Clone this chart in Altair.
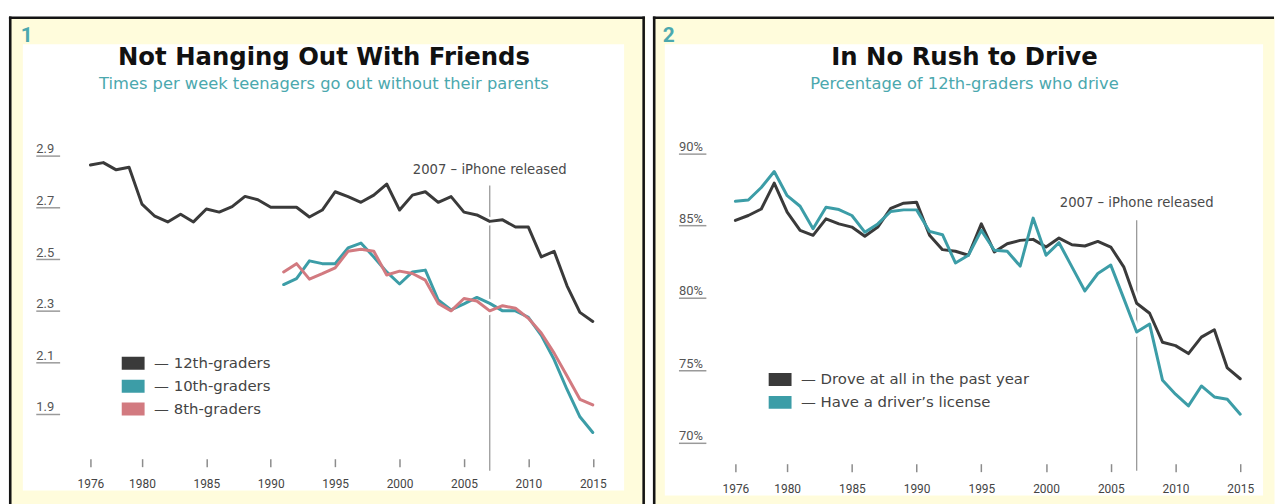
import altair as alt
import pandas as pd

# ---------------------------------------------------------------- data
YEARS = list(range(1976, 2016))
YEARS_MS = list(range(1991, 2016))

# Times per week teenagers go out without their parents
GRADE12 = [2.865, 2.874, 2.846, 2.856, 2.713, 2.666, 2.644, 2.674, 2.644, 2.694,
           2.682, 2.703, 2.743, 2.730, 2.701, 2.701, 2.701, 2.663, 2.690, 2.761,
           2.742, 2.720, 2.748, 2.791, 2.690, 2.748, 2.761, 2.720, 2.742, 2.682,
           2.671, 2.646, 2.652, 2.624, 2.624, 2.508, 2.530, 2.396, 2.293, 2.258]
GRADE10 = [2.401, 2.424, 2.493, 2.482, 2.482, 2.543, 2.562, 2.508, 2.450, 2.403,
           2.450, 2.457, 2.341, 2.303, 2.326, 2.351, 2.328, 2.299, 2.299, 2.274,
           2.204, 2.110, 1.994, 1.888, 1.827]
GRADE8 = [2.450, 2.482, 2.422, 2.443, 2.466, 2.530, 2.538, 2.530, 2.438, 2.453,
          2.444, 2.418, 2.328, 2.299, 2.347, 2.337, 2.299, 2.319, 2.309, 2.270,
          2.213, 2.135, 2.046, 1.956, 1.934]

# Percentage of 12th-graders who drive
DROVE = [85.36, 85.70, 86.15, 87.94, 85.93, 84.67, 84.33, 85.47, 85.12, 84.90,
         84.26, 84.90, 86.20, 86.55, 86.61, 84.33, 83.34, 83.23, 82.95, 85.12,
         83.18, 83.75, 83.98, 84.05, 83.52, 84.14, 83.68, 83.59, 83.91, 83.52,
         82.15, 79.63, 78.94, 76.93, 76.70, 76.15, 77.29, 77.80, 75.16, 74.41]
LICENSE = [86.68, 86.77, 87.64, 88.74, 87.07, 86.34, 84.78, 86.27, 86.11, 85.70,
           84.55, 85.12, 85.98, 86.09, 86.09, 84.60, 84.37, 82.42, 82.95, 84.67,
           83.30, 83.23, 82.20, 85.52, 82.95, 83.82, 82.15, 80.48, 81.69, 82.27,
           79.97, 77.64, 78.19, 74.30, 73.34, 72.53, 73.91, 73.15, 72.99, 71.96]

SERIES_1 = ["12th-graders", "10th-graders", "8th-graders"]
SERIES_2 = ["Drove at all in the past year", "Have a driver\u2019s license"]

IPHONE_YEAR = 2007
NOTE = "2007 \u2013 iPhone released"
TICK_YEARS = [1976, 1980, 1985, 1990, 1995, 2000, 2005, 2010, 2015]
TICKS_1 = [1.9, 2.1, 2.3, 2.5, 2.7, 2.9]
TICKS_2 = [70, 75, 80, 85, 90]

# ---------------------------------------------------------------- style
FONT = "DejaVu Sans"
NUM_FONT = "Roboto"
DARK = "#3a3a3a"
TEAL = "#3c9da7"
PINK = "#d27a80"
SUB_TEAL = "#4ba8ae"
YELLOW = "#fffcdc"
BORDER = "#141414"
H = 491


def linear_domain(v0, p0, v1, p1, size, vertical=False):
    """Domain for a linear scale so that v0 sits at pixel p0 and v1 at p1."""
    k = (v1 - v0) / (p1 - p0)
    a = v0 - p0 * k
    b = v0 + (size - p0) * k
    return [b, a] if vertical else [a, b]


def one(**cols):
    return pd.DataFrame({k: [v] for k, v in cols.items()})


def text_layer(txt, x, y, size, color, weight="normal", align="center", font=FONT):
    return alt.Chart(one(t=txt)).mark_text(
        font=font, fontSize=size, fontWeight=weight, color=color,
        align=align, baseline="alphabetic",
    ).encode(x=alt.value(x), y=alt.value(y), text="t:N")


def panel(df, series, colors, number, title, subtitle, W, x_px, y_vals, y_px,
          y_ticks, y_axis_x, y_label_x, y_fmt, x_axis_y, rule_top, note_y,
          legend_xy, box, right_border):
    x_enc = alt.X(
        "year:Q",
        scale=alt.Scale(domain=linear_domain(1976, x_px[0], 2015, x_px[1], W),
                        nice=False, zero=False),
        axis=alt.Axis(values=TICK_YEARS, format="d", orient="bottom",
                      offset=-(H - x_axis_y), tickSize=8, tickWidth=1.5,
                      tickColor="#8c8c8c", domain=False, grid=False,
                      labelPadding=12, labelFontSize=12, labelFont=NUM_FONT,
                      labelColor="#444444", labelFlush=False,
                      labelOverlap=False, title=None, zindex=2),
    )
    y_axis = dict(values=y_ticks, orient="left", offset=-y_axis_x,
                  tickSize=y_axis_x - y_label_x, tickWidth=1.5,
                  tickColor="#9a9a9a", domain=False, grid=False,
                  labelAlign="left", labelBaseline="alphabetic",
                  labelPadding=0, labelOffset=-3, labelFontSize=13,
                  labelFont=NUM_FONT, labelColor="#555555", title=None,
                  zindex=2)
    if y_fmt.startswith("datum"):
        y_axis["labelExpr"] = y_fmt
    else:
        y_axis["format"] = y_fmt
    y_enc = alt.Y(
        "value:Q",
        scale=alt.Scale(domain=linear_domain(y_vals[0], y_px[0], y_vals[1],
                                             y_px[1], H, vertical=True),
                        nice=False, zero=False),
        axis=alt.Axis(**y_axis),
    )

    layers = []
    # white plotting card on the yellow panel
    layers.append(alt.Chart(one(a=0)).mark_rect(color="white").encode(
        x=alt.value(box[0]), x2=alt.value(box[1]),
        y=alt.value(box[2]), y2=alt.value(box[3])))
    # panel frame
    bw = 2.6
    layers.append(alt.Chart(one(a=0)).mark_rule(color=BORDER, strokeWidth=bw).encode(
        x=alt.value(bw / 2), y=alt.value(0), y2=alt.value(H)))
    layers.append(alt.Chart(one(a=0)).mark_rule(color=BORDER, strokeWidth=bw).encode(
        x=alt.value(0), x2=alt.value(W), y=alt.value(bw / 2)))
    if right_border:
        layers.append(alt.Chart(one(a=0)).mark_rule(color=BORDER, strokeWidth=bw).encode(
            x=alt.value(W - bw / 2), y=alt.value(0), y2=alt.value(H)))

    # headings
    cx = (box[0] + box[1]) / 2 + 0.5
    layers.append(text_layer(number, box[0] - 2, 26, 21, SUB_TEAL, "bold", "left",
                             font=NUM_FONT))
    layers.append(text_layer(title, cx, 49, 24.5, "#111111", "bold"))
    layers.append(text_layer(subtitle, cx, 73, 16.4, SUB_TEAL))

    # iPhone marker
    mark_df = one(year=IPHONE_YEAR, value=y_vals[0], t=NOTE)
    layers.append(alt.Chart(mark_df).mark_rule(color="#9a9a9a", strokeWidth=1.3).encode(
        x=x_enc, y=alt.value(rule_top), y2=alt.value(457)))
    layers.append(alt.Chart(mark_df).mark_text(
        font=FONT, fontSize=13.3, color="#4a4a4a", align="center",
        baseline="alphabetic").encode(x=x_enc, y=alt.value(note_y), text="t:N"))

    # white halo under the series so the marker line breaks around them
    layers.append(alt.Chart(df).mark_line(color="white", strokeWidth=8).encode(
        x=x_enc, y=y_enc, detail="series:N"))
    layers.append(alt.Chart(df).mark_line(strokeWidth=3, strokeJoin="round",
                                          strokeCap="round").encode(
        x=x_enc, y=y_enc,
        color=alt.Color("series:N", sort=series,
                        scale=alt.Scale(domain=series, range=colors),
                        legend=alt.Legend(
                            orient="none", legendX=legend_xy[0],
                            legendY=legend_xy[1], title=None,
                            symbolType="stroke", symbolSize=529,
                            symbolStrokeWidth=13, labelOffset=3,
                            labelFontSize=15, labelFont=FONT,
                            labelColor="#444444", labelLimit=400,
                            padding=0, rowPadding=0, clipHeight=23,
                            labelExpr="'\u2014 ' + datum.label",
                            direction="vertical", zindex=3)),
    ))
    return alt.layer(*layers).properties(width=W, height=H)


rows_1 = (
    [{"year": y, "value": v, "series": SERIES_1[0]} for y, v in zip(YEARS, GRADE12)]
    + [{"year": y, "value": v, "series": SERIES_1[1]} for y, v in zip(YEARS_MS, GRADE10)]
    + [{"year": y, "value": v, "series": SERIES_1[2]} for y, v in zip(YEARS_MS, GRADE8)]
)
rows_2 = (
    [{"year": y, "value": v, "series": SERIES_2[0]} for y, v in zip(YEARS, DROVE)]
    + [{"year": y, "value": v, "series": SERIES_2[1]} for y, v in zip(YEARS, LICENSE)]
)

left = panel(
    pd.DataFrame(rows_1), SERIES_1, [DARK, TEAL, PINK], "1",
    "Not Hanging Out With Friends",
    "Times per week teenagers go out without their parents",
    W=640, x_px=(82, 587.5), y_vals=(2.9, 1.9), y_px=(140.3, 399.7),
    y_ticks=TICKS_1, y_axis_x=51, y_label_x=27, y_fmt=".1f",
    x_axis_y=445, rule_top=170, note_y=158.5, legend_xy=(107, 337.5),
    box=(14, 619, 28, 477), right_border=True,
)
right = panel(
    pd.DataFrame(rows_2), SERIES_2, [DARK, TEAL], "2",
    "In No Rush to Drive",
    "Percentage of 12th-graders who drive",
    W=625, x_px=(83, 591), y_vals=(90, 70), y_px=(137.7, 428.7),
    y_ticks=TICKS_2, y_axis_x=53.3, y_label_x=25.7,
    y_fmt="datum.value + '%'",
    x_axis_y=450, rule_top=205, note_y=191.5, legend_xy=(110, 353.8),
    box=(12, 614, 28, 482), right_border=False,
)

chart = (
    alt.hconcat(left, right, spacing=4)
    .resolve_scale(x="independent", y="independent", color="independent")
    .resolve_legend(color="independent")
    .properties(padding={"left": 7, "top": 13, "right": 0, "bottom": 0},
                background="white")
    .configure_view(fill=YELLOW, stroke="transparent")
)

chart.save("out.html", embed_options={"renderer": "svg", "actions": False})
